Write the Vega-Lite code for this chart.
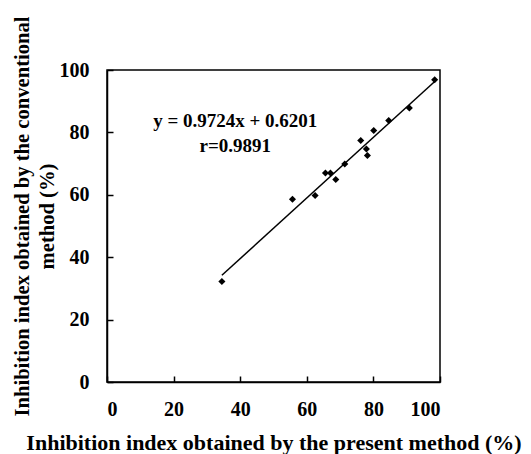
{
  "$schema": "https://vega.github.io/schema/vega-lite/v6.json",
  "autosize": "none",
  "width": 333,
  "height": 312,
  "padding": {"left": 107, "top": 70, "right": 91, "bottom": 72},
  "background": "white",
  "config": {
    "view": {"stroke": "black", "strokeWidth": 1.5},
    "font": "Liberation Serif",
    "axis": {
      "grid": false,
      "domainColor": "black",
      "domainWidth": 1.5,
      "tickColor": "black",
      "tickWidth": 1.5,
      "tickSize": -6,
      "labelFont": "Liberation Serif",
      "labelFontWeight": "bold",
      "labelFontSize": 20,
      "labelColor": "black",
      "titleFont": "Liberation Serif",
      "titleFontWeight": "bold",
      "titleColor": "black"
    }
  },
  "datasets": {
    "points": [
      {"present": 34.5, "conventional": 32.2},
      {"present": 55.7, "conventional": 58.6},
      {"present": 62.5, "conventional": 59.8},
      {"present": 65.6, "conventional": 67.0},
      {"present": 67.1, "conventional": 67.0},
      {"present": 68.7, "conventional": 64.9},
      {"present": 71.4, "conventional": 69.9},
      {"present": 76.2, "conventional": 77.4},
      {"present": 77.9, "conventional": 74.7},
      {"present": 78.2, "conventional": 72.6},
      {"present": 80.1, "conventional": 80.6},
      {"present": 84.6, "conventional": 83.8},
      {"present": 90.8, "conventional": 87.8},
      {"present": 98.4, "conventional": 96.9}
    ],
    "fit": [
      {"present": 34.5, "conventional": 34.2},
      {"present": 98.5, "conventional": 96.4}
    ],
    "labels": [
      {"present": 38.5, "conventional": 83.5, "text": "y = 0.9724x + 0.6201"},
      {"present": 38.5, "conventional": 75.8, "text": "r=0.9891"}
    ]
  },
  "layer": [
    {
      "data": {"name": "fit"},
      "mark": {"type": "line", "color": "black", "strokeWidth": 1.5},
      "encoding": {
        "x": {
          "field": "present", "type": "quantitative",
          "scale": {"domain": [0, 100], "nice": false},
          "axis": {
            "values": [0, 20, 40, 60, 80, 100],
            "title": "Inhibition index obtained by the present method (%)",
            "titleFontSize": 22,
            "labelPadding": 23,
            "titleY": 67,
            "titleBaseline": "alphabetic"
          }
        },
        "y": {
          "field": "conventional", "type": "quantitative",
          "scale": {"domain": [0, 100], "nice": false},
          "axis": {
            "values": [0, 20, 40, 60, 80, 100],
            "title": ["Inhibition index obtained by the conventional", "method (%)"],
            "titleFontSize": 20.6,
            "labelPadding": 24,
            "titleLineHeight": 25,
            "titleX": -85,
            "titleY": 146,
            "titleBaseline": "middle"
          }
        }
      }
    },
    {
      "data": {"name": "points"},
      "mark": {"type": "point", "shape": "diamond", "filled": true, "color": "black", "size": 50, "opacity": 1},
      "encoding": {
        "x": {"field": "present", "type": "quantitative"},
        "y": {"field": "conventional", "type": "quantitative"}
      }
    },
    {
      "data": {"name": "labels"},
      "mark": {"type": "text", "font": "Liberation Serif", "fontWeight": "bold", "fontSize": 19, "color": "black", "align": "center", "baseline": "middle"},
      "encoding": {
        "x": {"field": "present", "type": "quantitative"},
        "y": {"field": "conventional", "type": "quantitative"},
        "text": {"field": "text"}
      }
    }
  ]
}
